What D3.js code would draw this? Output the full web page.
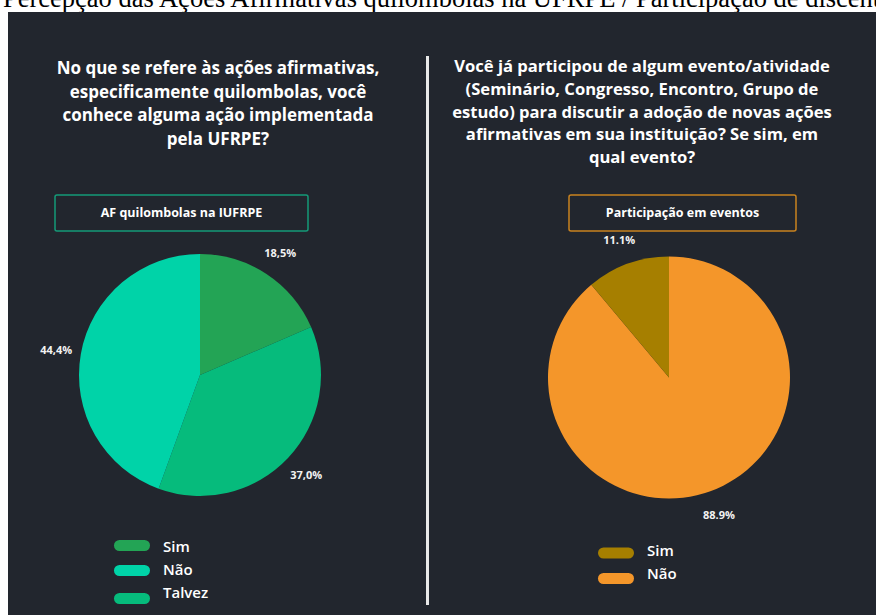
<!DOCTYPE html>
<html>
<head>
<meta charset="utf-8">
<script src="https://cdn.jsdelivr.net/npm/d3@7"></script>
<style>
  body { margin: 0; background: #fff; }
  svg { display: block; }
</style>
</head>
<body>
<script>
// data
const pageTitle = "Percepção das Ações Afirmativas quilombolas na UFRPE / Participação de discentes"

const leftTitle = ["No que se refere às ações afirmativas,", "especificamente quilombolas, você", "conhece alguma ação implementada", "pela UFRPE?"]
const leftBox = "AF quilombolas na IUFRPE"
const leftCats = ["Sim", "Talvez", "Não"]
const leftValues = [18.5, 37.0, 44.4]
const leftLabels = ["18,5%", "37,0%", "44,4%"]
const leftLegend = ["Sim", "Não", "Talvez"]

const rightTitle = ["Você já participou de algum evento/atividade", "(Seminário, Congresso, Encontro, Grupo de", "estudo) para discutir a adoção de novas ações", "afirmativas em sua instituição? Se sim, em", "qual evento?"]
const rightBox = "Participação em eventos"
const rightCats = ["Não", "Sim"]
const rightValues = [88.9, 11.1]
const rightLabels = ["88.9%", "11.1%"]
const rightLegend = ["Sim", "Não"]

const W = 876, H = 615
const font = "'Open Sans', sans-serif"

const svg = d3.select("body").append("svg")
  .attr("width", W)
  .attr("height", H)

// page caption (cut at top / right like the screenshot)
svg.append("text")
  .attr("x", 3)
  .attr("y", 7)
  .attr("font-family", "'Liberation Serif', 'Times New Roman', serif")
  .attr("font-size", 26.5)
  .attr("fill", "#000")
  .text(pageTitle)

// dark panel
svg.append("rect")
  .attr("x", 8).attr("y", 12)
  .attr("width", W - 8).attr("height", H - 12)
  .attr("fill", "#22262e")

// divider
svg.append("rect")
  .attr("x", 426).attr("y", 56)
  .attr("width", 3).attr("height", 549)
  .attr("fill", "#e8e8e8")

function panel(opts) {
  const g = svg.append("g")

  // question
  g.append("text")
    .attr("text-anchor", "middle")
    .attr("font-family", font)
    .attr("font-weight", 700)
    .attr("font-size", opts.titleSize)
    .attr("fill", "#fff")
    .selectAll("tspan")
    .data(opts.title)
    .join("tspan")
    .attr("x", opts.titleX)
    .attr("y", (d, i) => opts.titleY + i * opts.lineH)
    .text(d => d)

  // framed sub title
  g.append("rect")
    .attr("x", opts.box[0]).attr("y", opts.box[1])
    .attr("width", opts.box[2]).attr("height", opts.box[3])
    .attr("rx", 2)
    .attr("fill", "none")
    .attr("stroke", opts.boxColor)
    .attr("stroke-width", 1.5)
  g.append("text")
    .attr("x", opts.box[0] + opts.box[2] / 2)
    .attr("y", opts.box[1] + opts.box[3] / 2 + 4)
    .attr("text-anchor", "middle")
    .attr("font-family", font)
    .attr("font-weight", 700)
    .attr("font-size", 12.5)
    .attr("fill", "#fff")
    .text(opts.boxText)

  const color = d3.scaleOrdinal().domain(opts.cats).range(opts.colors)

  const pie = d3.pie().sort(null).value(d => d.value)
  const arcs = pie(opts.cats.map((c, i) => ({ cat: c, value: opts.values[i], label: opts.labels[i] })))
  const arc = d3.arc().innerRadius(0).outerRadius(121)
  const labelArc = d3.arc().innerRadius(146).outerRadius(146)

  const pg = g.append("g").attr("transform", `translate(${opts.cx},${opts.cy})`)
  pg.selectAll("path")
    .data(arcs)
    .join("path")
    .attr("d", arc)
    .attr("fill", d => color(d.data.cat))

  pg.selectAll("text")
    .data(arcs)
    .join("text")
    .attr("transform", d => `translate(${labelArc.centroid(d)})`)
    .attr("dy", "0.35em")
    .attr("text-anchor", "middle")
    .attr("font-family", font)
    .attr("font-weight", 700)
    .attr("font-size", 11)
    .attr("fill", "#f2f2f2")
    .text(d => d.data.label)

  // legend
  const lg = g.append("g")
    .selectAll("g")
    .data(opts.legend)
    .join("g")
  lg.append("rect")
    .attr("x", opts.legX)
    .attr("y", (d, i) => opts.legY[i] - 5.5)
    .attr("width", 36).attr("height", 11)
    .attr("rx", 5.5)
    .attr("fill", d => color(d))
  lg.append("text")
    .attr("x", opts.legX + 49)
    .attr("y", (d, i) => opts.legTextY[i])
    .attr("dy", "0.35em")
    .attr("font-family", font)
    .attr("font-weight", 600)
    .attr("font-size", 15)
    .attr("fill", "#fff")
    .text(d => d)
}

panel({
  title: leftTitle, titleX: 218, titleY: 74, lineH: 23.7, titleSize: 17,
  box: [55, 195, 253, 36], boxColor: "#159a78", boxText: leftBox,
  cats: leftCats, values: leftValues, labels: leftLabels,
  colors: ["#23a455", "#06bb7c", "#00d3a8"],
  cx: 200, cy: 375,
  legend: leftLegend, legX: 114, legY: [545.5, 570.5, 598.5], legTextY: [547, 570, 593]
})

panel({
  title: rightTitle, titleX: 642, titleY: 72, lineH: 22.8, titleSize: 16.6,
  box: [569, 195, 227, 36], boxColor: "#c9821f", boxText: rightBox,
  cats: rightCats, values: rightValues, labels: rightLabels,
  colors: ["#f4962a", "#a67f00"],
  cx: 669, cy: 377.5,
  legend: rightLegend, legX: 598, legY: [553, 578.5], legTextY: [551, 574]
})
</script>
</body>
</html>
